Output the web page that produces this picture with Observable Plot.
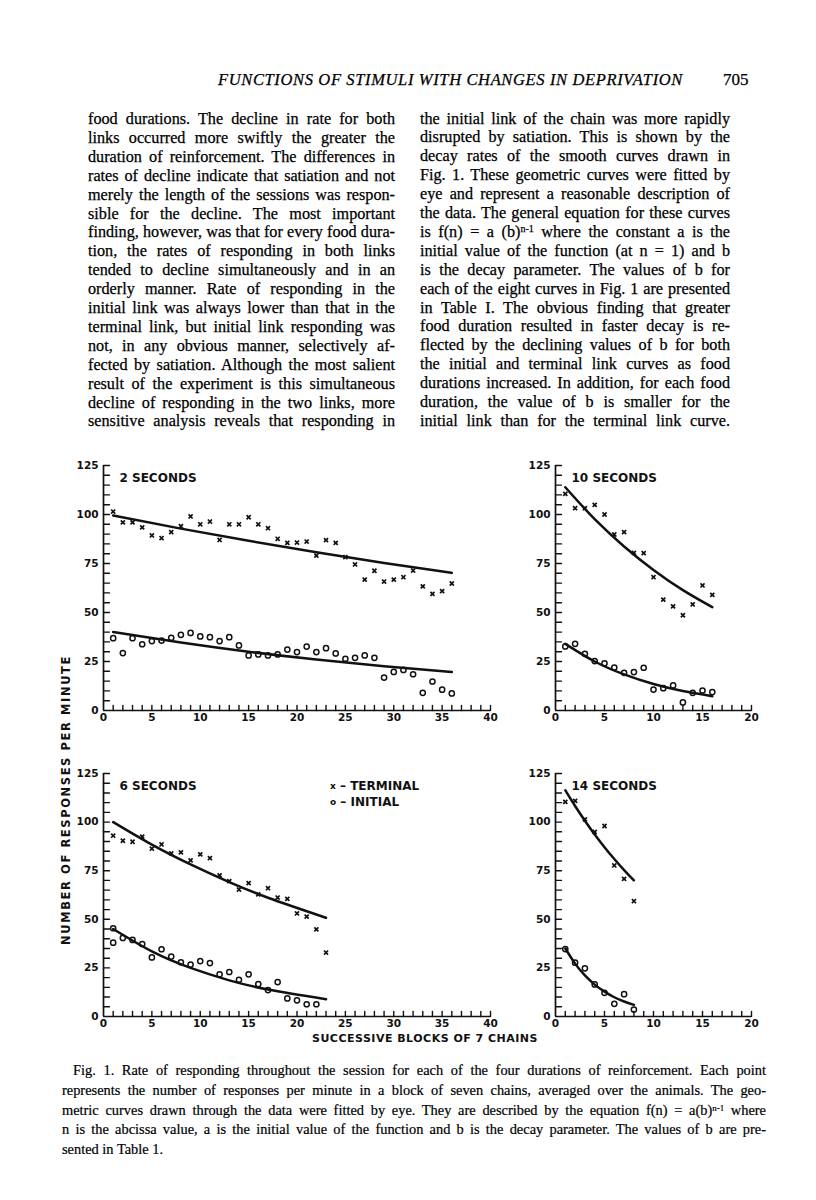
<!DOCTYPE html>
<html><head><meta charset="utf-8">
<script src="https://cdn.jsdelivr.net/npm/d3@7"></script>
<script src="https://cdn.jsdelivr.net/npm/@observablehq/plot@0.6"></script>
<style>
html,body{margin:0;padding:0;background:#fff;}
body{width:816px;height:1200px;position:relative;overflow:hidden;color:#000;font-family:"Liberation Serif","Times New Roman",serif;}
.ln{position:absolute;white-space:nowrap;font-size:16.2px;line-height:19px;-webkit-text-stroke:0.25px #000;}
.cap{position:absolute;white-space:nowrap;font-size:14.4px;line-height:18px;-webkit-text-stroke:0.2px #000;}
sup{font-size:0.62em;vertical-align:0.45em;line-height:0;}
.fig{position:absolute;white-space:nowrap;font-family:"DejaVu Sans",sans-serif;font-weight:bold;color:#111;}
.panel{position:absolute;}
</style></head>
<body>
<div id="page"></div>
<script>
// ---------- data ----------
// 2 seconds
const term2 = [101.5,96,96,93.4,89.3,88,91,94,99,95,96.4,87,95,95,98.6,95,93,87.6,85.5,85.7,86.2,79,86.9,85.5,78.2,74.5,66.8,71.3,65.8,66.8,68,71.4,63.3,59.5,60.9,64.8];
const init2 = [36.9,29.3,36.9,33.8,35.4,35.7,37.1,38.6,39.6,37.8,37.4,35.4,37.4,33.2,28.1,28.6,28.1,28.6,31.1,29.8,32.6,29.8,31.8,29.1,26.4,26.9,28.1,26.9,16.8,19.7,20.7,18.5,9,14.8,10.6,8.7];
const fit2N = [1,8,15,22,29,36];
const fit2T = [99.5,92.8,86.6,80.7,75.3,70.2];
const fit2I = [40,34.7,30.0,26.0,22.6,19.6];
// 10 seconds
const term10 = [110.5,103.2,103.2,104.9,100,89.8,91,80.4,80.3,68,56.6,53.1,48.6,54.1,63.8,59];
const init10 = [32.7,34,28.9,25.2,24.1,21.9,19.2,19.6,21.8,10.7,11.4,12.8,4.1,9,10.2,9.4];
const fit10N = [1,4,7,10,13,16];
const fit10T = [113.9,97.6,83.7,71.7,61.4,52.7];
const fit10I = [34,25.0,18.4,13.5,9.9,7.3];
// 6 seconds
const term6 = [93,90.4,89.9,92.5,86.3,88.5,83.9,84.4,80.3,83.4,81.5,72.6,69.6,65.3,68.6,62.8,66,61.2,60.5,53,51.4,44.8,32.9];
const init6Blocks = [1,1,2,3,4,5,6,7,8,9,10,11,12,13,14,15,16,17,18,19,20,21,22];
const init6 = [45.4,38,40.4,39.4,37.3,30.4,34.6,30.8,27.9,26.7,28.5,27.5,21.7,22.9,18.9,21.7,16.7,13.6,17.7,9.3,8.3,6.3,6.3];
const fit6N = [1,5,9,13,17,23];
const fit6T = [100,88.4,78.2,69.1,61.1,50.8];
const fit6I = [45,33.5,25.0,18.6,13.9,8.9];
// 14 seconds
const term14 = [110.4,110.9,101.4,94.9,98,77.7,70.8,59.3];
const init14 = [34.7,27.7,24.8,16.5,12.2,6.5,11.5,3.6];
const fit14N = [1,2,3,4,5,6,7,8];
const fit14T = [116.4,108.3,100.7,93.6,87.1,81.0,75.3,70.0];
const fit14I = [35,27.2,21.1,16.4,12.8,9.9,7.7,6.0];

const yTickLabels = [0,25,50,75,100,125];
const yMinorTicks = [5,10,15,20,25,30,35,40,45,50,55,60,65,70,75,80,85,90,95,100,105,110,115,120,125];
const xTickLabelsWide = [0,5,10,15,20,25,30,35,40];
const xTickLabelsNarrow = [0,5,10,15,20];
const xMinorWide = d3.range(1, 41);
const xMinorNarrow = d3.range(1, 21);

const panelTitles = ["2 SECONDS","10 SECONDS","6 SECONDS","14 SECONDS"];
const legendLabels = ["TERMINAL","INITIAL"];
const yAxisLabel = "NUMBER OF RESPONSES PER MINUTE";
const xAxisLabel = "SUCCESSIVE BLOCKS OF 7 CHAINS";

const header = "FUNCTIONS OF STIMULI WITH CHANGES IN DEPRIVATION";
const pageNo = "705";
const leftLines = [
"food durations. The decline in rate for both",
"links occurred more swiftly the greater the",
"duration of reinforcement. The differences in",
"rates of decline indicate that satiation and not",
"merely the length of the sessions was respon-",
"sible for the decline. The most important",
"finding, however, was that for every food dura-",
"tion, the rates of responding in both links",
"tended to decline simultaneously and in an",
"orderly manner. Rate of responding in the",
"initial link was always lower than that in the",
"terminal link, but initial link responding was",
"not, in any obvious manner, selectively af-",
"fected by satiation. Although the most salient",
"result of the experiment is this simultaneous",
"decline of responding in the two links, more",
"sensitive analysis reveals that responding in"];
const rightLines = [
"the initial link of the chain was more rapidly",
"disrupted by satiation. This is shown by the",
"decay rates of the smooth curves drawn in",
"Fig. 1. These geometric curves were fitted by",
"eye and represent a reasonable description of",
"the data. The general equation for these curves",
"is f(n) = a (b)<sup>n-1</sup> where the constant a is the",
"initial value of the function (at n = 1) and b",
"is the decay parameter. The values of b for",
"each of the eight curves in Fig. 1 are presented",
"in Table I. The obvious finding that greater",
"food duration resulted in faster decay is re-",
"flected by the declining values of b for both",
"the initial and terminal link curves as food",
"durations increased. In addition, for each food",
"duration, the value of b is smaller for the",
"initial link than for the terminal link curve."];
const captionLines = [
"Fig. 1. Rate of responding throughout the session for each of the four durations of reinforcement. Each point",
"represents the number of responses per minute in a block of seven chains, averaged over the animals. The geo-",
"metric curves drawn through the data were fitted by eye. They are described by the equation f(n) = a(b)<sup>n-1</sup> where",
"n is the abcissa value, a is the initial value of the function and b is the decay parameter. The values of b are pre-",
"sented in Table 1."];

// ---------- helpers ----------
const page = document.getElementById("page");
function place(html, cls, x, top, width, justify) {
  const d = document.createElement("div");
  d.className = cls;
  d.innerHTML = html;
  d.style.left = x + "px";
  d.style.top = top + "px";
  page.appendChild(d);
  if (justify) {
    const w = d.getBoundingClientRect().width;
    const n = (d.textContent.match(/ /g) || []).length;
    if (n) d.style.wordSpacing = ((width - w) / n) + "px";
  }
  return d;
}
function fitLetters(d, width) {
  const w = d.getBoundingClientRect().width;
  const n = d.textContent.length;
  d.style.letterSpacing = ((width - w) / n) + "px";
}

// header
const h = place(header, "ln", 218, 82 - 12, 0, false);
h.style.fontStyle = "italic"; h.style.fontSize = "16.5px";
fitLetters(h, 465);
const pn = place(pageNo, "ln", 723, 82 - 12, 0, false);
pn.style.fontSize = "17px";

// body columns
leftLines.forEach((t, i) => place(t, "ln", 88, 121.5 + i * 18.9 - 11.5, 307, true));
rightLines.forEach((t, i) => place(t, "ln", 420, 121 + i * 18.9 - 11.5, 310, true));

// caption
captionLines.forEach((t, i) => {
  const x = i === 0 ? 73 : 62;
  place(t, "cap", x, 1071 + i * 19.8 - 10, 766 - x, i < 4);
});

// ---------- panels ----------
const tickShape = {draw(ctx, l) { ctx.moveTo(0, 0); ctx.lineTo(0, -l); }};
function toRows(xs, vs) { return vs.map((v, i) => ({n: xs[i], v})); }
function seq(vs) { return vs.map((v, i) => ({n: i + 1, v})); }

function panel({title, xMax, xLabels, xMinor, term, init, fitT, fitI, left, top, width, height, mL, mR, mT, mB}) {
  const chart = Plot.plot({
    width, height, marginLeft: mL, marginRight: mR, marginTop: mT, marginBottom: mB,
    style: {background: "transparent", fontFamily: "DejaVu Sans, sans-serif", fontWeight: "bold", fontSize: "10.5px", color: "#111", overflow: "visible"},
    x: {domain: [0, xMax], label: null},
    y: {domain: [0, 125], label: null},
    marks: [
      Plot.axisY(yTickLabels, {tickSize: 0, tickPadding: 5, label: null, fontSize: 10.5, fontWeight: "bold"}),
      Plot.axisX(xLabels, {tickSize: 0, tickPadding: 3, label: null, fontSize: 10.5, fontWeight: "bold"}),
      Plot.ruleX([0], {stroke: "#111", strokeWidth: 1.7}),
      Plot.ruleY([0], {stroke: "#111", strokeWidth: 1.7}),
      Plot.vector(yMinorTicks, {x: 0, y: d => d, length: 6, rotate: 90, anchor: "start", shape: tickShape, stroke: "#111", strokeWidth: 1.4}),
      Plot.vector(xMinor, {x: d => d, y: 0, length: 5, rotate: 0, anchor: "start", shape: tickShape, stroke: "#111", strokeWidth: 1.4}),
      Plot.line(fitT, {x: "n", y: "v", curve: "natural", stroke: "#111", strokeWidth: 2.5}),
      Plot.line(fitI, {x: "n", y: "v", curve: "natural", stroke: "#111", strokeWidth: 2.5}),
      Plot.dot(term, {x: "n", y: "v", symbol: "times", r: 2, stroke: "#111", strokeWidth: 1.7}),
      Plot.dot(init, {x: "n", y: "v", symbol: "circle", r: 2.6, stroke: "#111", fill: "none", strokeWidth: 1.5}),
      Plot.text([title], {frameAnchor: "top-left", textAnchor: "start", dx: 16, dy: 8, fontSize: 12, fontWeight: "bold", fill: "#111"})
    ]
  });
  const wrap = document.createElement("div");
  wrap.className = "panel";
  wrap.style.left = left + "px";
  wrap.style.top = top + "px";
  wrap.appendChild(chart);
  page.appendChild(wrap);
}

panel({title: panelTitles[0], xMax: 40, xLabels: xTickLabelsWide, xMinor: xMinorWide,
  term: seq(term2), init: seq(init2), fitT: toRows(fit2N, fit2T), fitI: toRows(fit2N, fit2I),
  left: 40, top: 450, width: 470, height: 290, mL: 63, mR: 20, mT: 15, mB: 30});
panel({title: panelTitles[1], xMax: 20, xLabels: xTickLabelsNarrow, xMinor: xMinorNarrow,
  term: seq(term10), init: seq(init10), fitT: toRows(fit10N, fit10T), fitI: toRows(fit10N, fit10I),
  left: 510, top: 450, width: 270, height: 290, mL: 45, mR: 29, mT: 15, mB: 30});
panel({title: panelTitles[2], xMax: 40, xLabels: xTickLabelsWide, xMinor: xMinorWide,
  term: seq(term6), init: toRows(init6Blocks, init6), fitT: toRows(fit6N, fit6T), fitI: toRows(fit6N, fit6I),
  left: 40, top: 758, width: 470, height: 290, mL: 63, mR: 20, mT: 15, mB: 32});
panel({title: panelTitles[3], xMax: 20, xLabels: xTickLabelsNarrow, xMinor: xMinorNarrow,
  term: seq(term14), init: seq(init14), fitT: toRows(fit14N, fit14T), fitI: toRows(fit14N, fit14I),
  left: 510, top: 758, width: 270, height: 290, mL: 45, mR: 29, mT: 15, mB: 32});

// legend
const lg1 = place('<span style="font-size:9px;position:relative;top:-1px">x</span> \u2013 ' + legendLabels[0], "fig", 330, 787 - 8, 0, false);
lg1.style.fontSize = "12px";
const lg2 = place('<span style="font-size:9px;position:relative;top:-1px">o</span> \u2013 ' + legendLabels[1], "fig", 330, 803 - 8, 0, false);
lg2.style.fontSize = "12px";

// axis titles
const xl = place(xAxisLabel, "fig", 0, 0, 0, false);
xl.style.fontSize = "11px";
fitLetters(xl, 226);
{ const r = xl.getBoundingClientRect(); xl.style.left = (425 - r.width / 2) + "px"; xl.style.top = (1038 - r.height / 2) + "px"; }
const yl = place(yAxisLabel, "fig", 0, 0, 0, false);
yl.style.fontSize = "11.5px";
fitLetters(yl, 290);
{ const r = yl.getBoundingClientRect(); yl.style.left = (66 - r.width / 2) + "px"; yl.style.top = (800 - r.height / 2) + "px"; yl.style.transform = "rotate(-90deg)"; }
</script>
</body></html>
